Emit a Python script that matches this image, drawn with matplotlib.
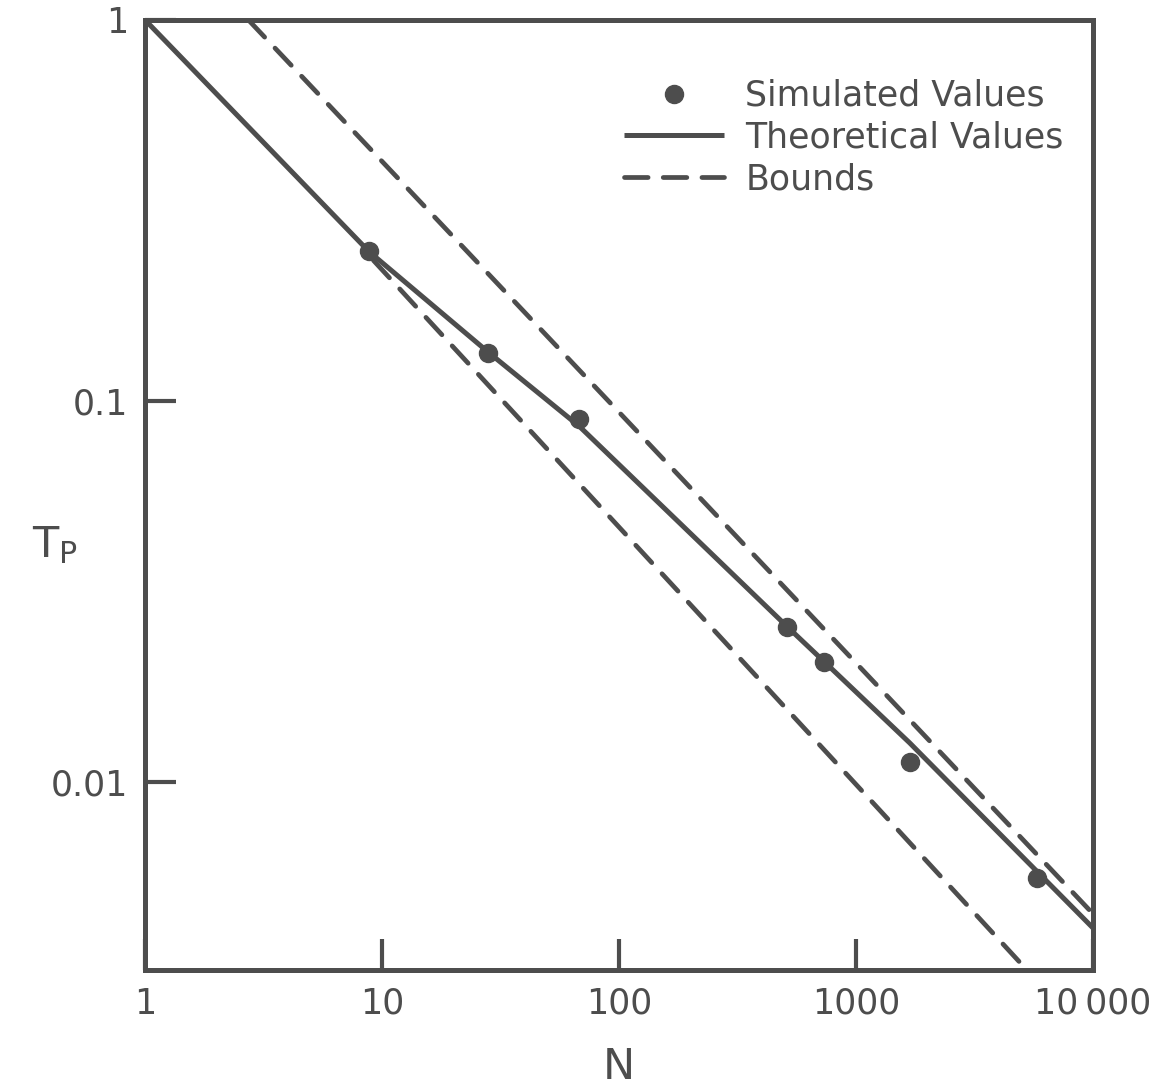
import matplotlib
matplotlib.use("Agg")
import matplotlib.pyplot as plt
from matplotlib.ticker import FixedLocator, NullLocator, FixedFormatter

# simulated points
sim_n = [8.8, 28, 68, 513, 736, 1683, 5800]
sim_tp = [0.247, 0.134, 0.0897, 0.0256, 0.0207, 0.0113, 0.00562]

# theoretical curve, vertices along the solid line
theo_n = [1, 8.8, 28, 68, 513, 736, 1683, 10000]
theo_tp = [1.0, 0.247, 0.1346, 0.0859, 0.0256, 0.0207, 0.0127, 0.00415]

# bounds (two straight lines on log-log)
upper_n = [2.73, 10000]
upper_tp = [1.0, 0.00452]
lower_n = [9.2, 5310]
lower_tp = [0.234, 0.0032]

x_ticks = [1, 10, 100, 1000, 10000]
x_labels = ["1", "10", "100", "1000", "10\u2009000"]
y_ticks = [0.01, 0.1, 1]
y_labels = ["0.01", "0.1", "1"]

ink = "#4d4d4d"
plt.rcParams['font.family'] = ['DejaVu Sans']

fig = plt.figure(figsize=(11.67, 10.91), dpi=100)
ax = fig.add_axes([0.1243, 0.1109, 0.8123, 0.8708])

ax.plot(theo_n, theo_tp, color=ink, lw=3.6, solid_capstyle='butt',
        label="Theoretical Values")
ax.plot(upper_n, upper_tp, color=ink, lw=3.4, linestyle=(0, (5, 3.2)),
        dash_capstyle='round', label="Bounds")
ax.plot(lower_n, lower_tp, color=ink, lw=3.4, linestyle=(0, (5, 3.2)),
        dash_capstyle='round')
ax.plot(sim_n, sim_tp, 'o', color=ink, markersize=13, label="Simulated Values",
        zorder=5)

ax.set_xscale('log')
ax.set_yscale('log')
ax.set_xlim(1, 10000)
ax.set_ylim(0.00322, 1)

ax.xaxis.set_major_locator(FixedLocator(x_ticks))
ax.xaxis.set_major_formatter(FixedFormatter(x_labels))
ax.xaxis.set_minor_locator(NullLocator())
ax.yaxis.set_major_locator(FixedLocator(y_ticks))
ax.yaxis.set_major_formatter(FixedFormatter(y_labels))
ax.yaxis.set_minor_locator(NullLocator())

ax.tick_params(direction='in', length=22, width=3, color=ink,
               labelsize=25, labelcolor=ink, pad=12)
for s in ax.spines.values():
    s.set_linewidth(3.6)
    s.set_color(ink)

ax.set_xlabel("N", fontsize=31, color=ink, labelpad=18)
ax.set_ylabel("T$_\\mathrm{P}$", fontsize=31, color=ink, rotation=0,
              labelpad=0)
ax.yaxis.set_label_coords(-0.095, 0.425)

h, l = ax.get_legend_handles_labels()
order = [2, 0, 1]
ax.legend([h[i] for i in order], [l[i] for i in order],
          loc='upper left', bbox_to_anchor=(0.505, 0.938), frameon=False,
          fontsize=25, labelcolor=ink, handlelength=2.9, handletextpad=0.6,
          labelspacing=0.22, borderaxespad=0, borderpad=0)

fig.savefig("out.png", dpi=100)
